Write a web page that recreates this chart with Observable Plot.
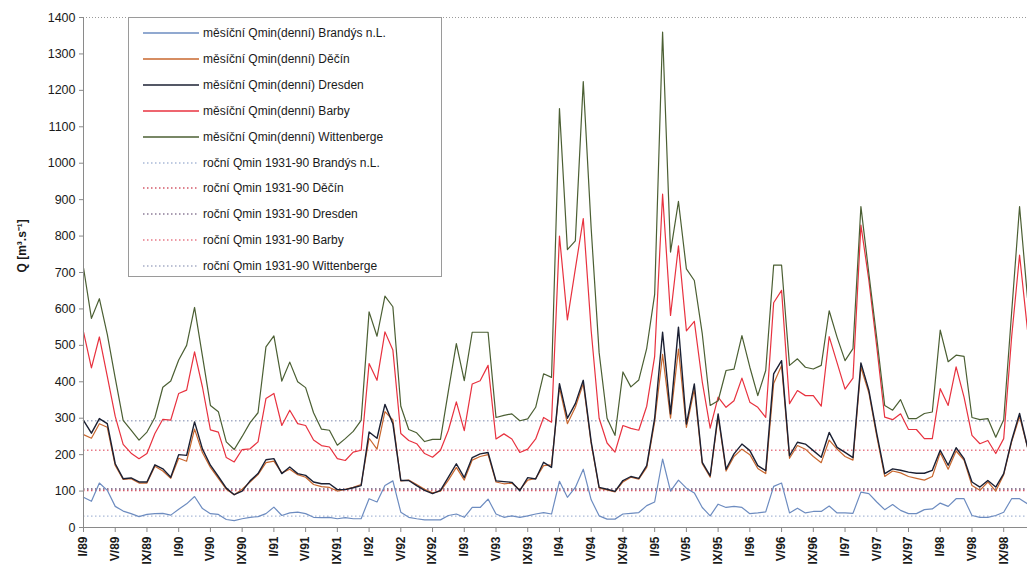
<!DOCTYPE html>
<html><head><meta charset="utf-8">
<script src="https://cdn.jsdelivr.net/npm/d3@7"></script>
<script src="https://cdn.jsdelivr.net/npm/@observablehq/plot@0.6"></script>
<style>
body{margin:0;background:#fff;}
#wrap{position:relative;width:1027px;height:567px;overflow:hidden;font-family:"Liberation Sans",Arial,sans-serif;}
#legend{position:absolute;left:128px;top:17px;width:314px;height:260px;border:1px solid #9a9a9a;background:#fff;box-sizing:border-box;}
.row{position:absolute;left:0;height:20px;display:flex;align-items:center;font-size:12px;color:#1a1a1a;white-space:nowrap;}
.row svg{margin-left:14px;margin-right:4px;}
</style></head><body><div id="wrap"></div>
<script>
// Monthly minimum daily discharge, I/1989 – XII/1998 (month index 0..119)
const brandys = [
  83,72,122,102,58,45,38,30,36,38,39,34,
  50,65,85,52,38,36,22,19,24,28,30,38,
  56,33,40,42,38,28,27,28,24,27,24,24,
  79,70,115,128,42,28,24,21,21,21,33,37,
  28,55,55,78,37,28,32,28,32,37,41,37,
  127,83,110,160,76,32,23,23,37,39,41,60,
  70,188,100,130,108,95,55,32,64,55,58,55,
  38,40,43,113,122,40,53,40,44,44,59,40,
  40,39,97,93,70,49,63,47,38,38,49,51,
  67,58,79,79,33,28,28,33,42,79,79,65];
const decin = [
  255,245,285,275,170,132,134,122,122,168,155,135,
  190,182,270,205,165,135,105,90,105,125,145,178,
  182,150,160,145,138,118,112,110,100,105,110,118,
  245,215,318,295,128,130,118,105,95,100,130,165,
  130,185,195,200,125,120,122,103,130,135,170,172,
  385,285,330,395,230,108,103,98,125,138,133,165,
  290,475,300,490,275,380,175,138,305,155,195,215,
  200,162,148,395,445,190,225,215,195,178,240,215,
  195,185,440,370,250,140,155,150,140,135,130,140,
  205,160,210,185,115,102,125,100,145,235,305,220];
const dresden = [
  294,259,299,285,175,134,136,125,125,172,161,138,
  200,198,290,215,171,140,108,90,100,128,148,186,
  189,148,166,148,143,125,120,120,104,104,109,115,
  262,245,338,285,129,129,115,102,93,102,138,175,
  137,192,202,206,128,126,124,101,137,133,179,165,
  395,300,340,404,235,110,105,99,129,140,135,170,
  300,536,312,550,284,394,179,142,312,160,202,229,
  211,170,156,422,458,197,234,229,211,193,261,220,
  206,192,452,377,258,148,161,157,152,149,149,157,
  212,171,219,189,125,111,129,111,148,239,313,221];
const barby = [
  537,438,523,415,305,228,204,189,203,258,297,295,
  368,377,482,385,268,262,192,180,214,216,235,354,
  368,280,322,285,280,240,225,221,189,184,207,212,
  450,404,537,487,258,239,230,203,193,212,267,345,
  266,394,403,445,243,257,243,206,215,243,302,289,
  800,570,710,848,540,300,232,207,280,272,267,333,
  470,915,582,773,540,566,400,273,358,330,348,410,
  344,330,302,617,651,340,376,362,362,333,524,452,
  380,410,830,679,496,303,296,312,269,269,244,244,
  381,335,441,358,253,230,239,203,244,523,748,542];
const wittenberge = [
  713,574,628,530,410,294,267,240,262,302,385,402,
  460,500,604,470,335,318,235,214,250,288,315,496,
  526,402,454,400,384,315,270,267,226,244,264,294,
  592,525,635,606,333,269,260,236,242,242,375,505,
  403,536,536,536,302,308,312,293,298,330,422,412,
  1150,763,787,1224,820,480,300,253,427,386,405,492,
  640,1360,756,895,710,678,532,335,348,431,435,527,
  440,362,431,720,720,445,463,440,435,445,595,522,
  458,491,881,698,520,335,322,351,299,299,313,317,
  542,455,473,470,302,296,299,248,296,590,881,630];

// Annual minimum 1931-90 reference levels
const refNames  = ["roční Qmin 1931-90 Brandýs n.L.","roční Qmin 1931-90 Děčín","roční Qmin 1931-90 Dresden","roční Qmin 1931-90 Barby","roční Qmin 1931-90 Wittenberge"];
const refValues = [31, 102, 106, 212, 293];
const refColors = ["#a9b9d8","#d45a6a","#8c7c98","#e77a88","#a6adc6"];
const refWidths = [1.3, 2, 1.6, 1.3, 1.3];

const seriesNames  = ["měsíční Qmin(denní) Brandýs n.L.","měsíční Qmin(denní) Děčín","měsíční Qmin(denní) Dresden","měsíční Qmin(denní) Barby","měsíční Qmin(denní) Wittenberge"];
const seriesValues = [brandys, decin, dresden, barby, wittenberge];
const seriesColors = ["#6d8cc0","#c8672e","#1b2033","#e8323f","#4b5f33"];

const tickLabels = ["I/89","V/89","IX/89","I/90","V/90","IX/90","I/91","V/91","IX/91","I/92","V/92","IX/92",
  "I/93","V/93","IX/93","I/94","V/94","IX/94","I/95","V/95","IX/95","I/96","V/96","IX/96",
  "I/97","V/97","IX/97","I/98","V/98","IX/98"];
const yTicks = d3.range(0, 1401, 100);
const yLabel = "Q [m³.s⁻¹]";

const refData = refNames.map((name, k) => ({name, v: refValues[k], k}));
const tickPos = tickLabels.map((_, k) => k * 4);

const chart = Plot.plot({
  width: 1027, height: 567,
  marginLeft: 83, marginRight: 0, marginTop: 17, marginBottom: 40,
  style: {fontFamily: "'Liberation Sans', Arial, sans-serif", fontSize: "12px", color: "#1a1a1a", background: "transparent", overflow: "visible"},
  x: {domain: [0, 119], axis: null},
  y: {domain: [0, 1400], axis: null},
  marks: [
    Plot.ruleY([1400], {stroke: "#9a9a9a", strokeDasharray: "1,2", strokeWidth: 1}),
    ...refData.map(r => Plot.ruleY([r.v], {stroke: refColors[r.k], strokeWidth: refWidths[r.k], strokeDasharray: "1.5,2.5"})),
    ...seriesNames.map((name, s) => Plot.lineY(seriesValues[s].map((v, i) => ({i, v})), {x: "i", y: "v", stroke: seriesColors[s], strokeWidth: s === 2 ? 1.4 : 1.2})),
    Plot.ruleX([0], {stroke: "#8a8a8a"}),
    Plot.ruleY([0], {stroke: "#8a8a8a"}),
    Plot.axisY({ticks: yTicks, tickFormat: d => String(d), tickSize: 4, tickPadding: 4, label: null, fontSize: 12.5, stroke: "#8a8a8a"}),
    Plot.axisX({ticks: tickPos, tickFormat: d => tickLabels[d / 4], tickSize: 5, tickPadding: 4, tickRotate: -90, label: null, fontSize: 12, fontWeight: "bold", stroke: "#8a8a8a"}),
    Plot.text([yLabel], {frameAnchor: "left", dx: -61, rotate: -90, fontWeight: "bold", fontSize: 12, fill: "#1a1a1a"})
  ]
});

const wrap = document.getElementById("wrap");
wrap.appendChild(chart);

const legend = document.createElement("div");
legend.id = "legend";
const entries = seriesNames.map((n, s) => ({name: n, color: seriesColors[s], dash: null, w: 1.3}))
  .concat(refNames.map((n, k) => ({name: n, color: refColors[k], dash: "1.5,2.5", w: 1.3})));
entries.forEach((e, k) => {
  const row = document.createElement("div");
  row.className = "row";
  row.style.top = (15 + 25.9 * k - 10) + "px";
  row.innerHTML = `<svg width="56" height="4"><line x1="0" x2="56" y1="2" y2="2" stroke="${e.color}" stroke-width="${e.w}" ${e.dash ? `stroke-dasharray="${e.dash}"` : ""}/></svg><span>${e.name}</span>`;
  legend.appendChild(row);
});
wrap.appendChild(legend);
</script></body></html>
